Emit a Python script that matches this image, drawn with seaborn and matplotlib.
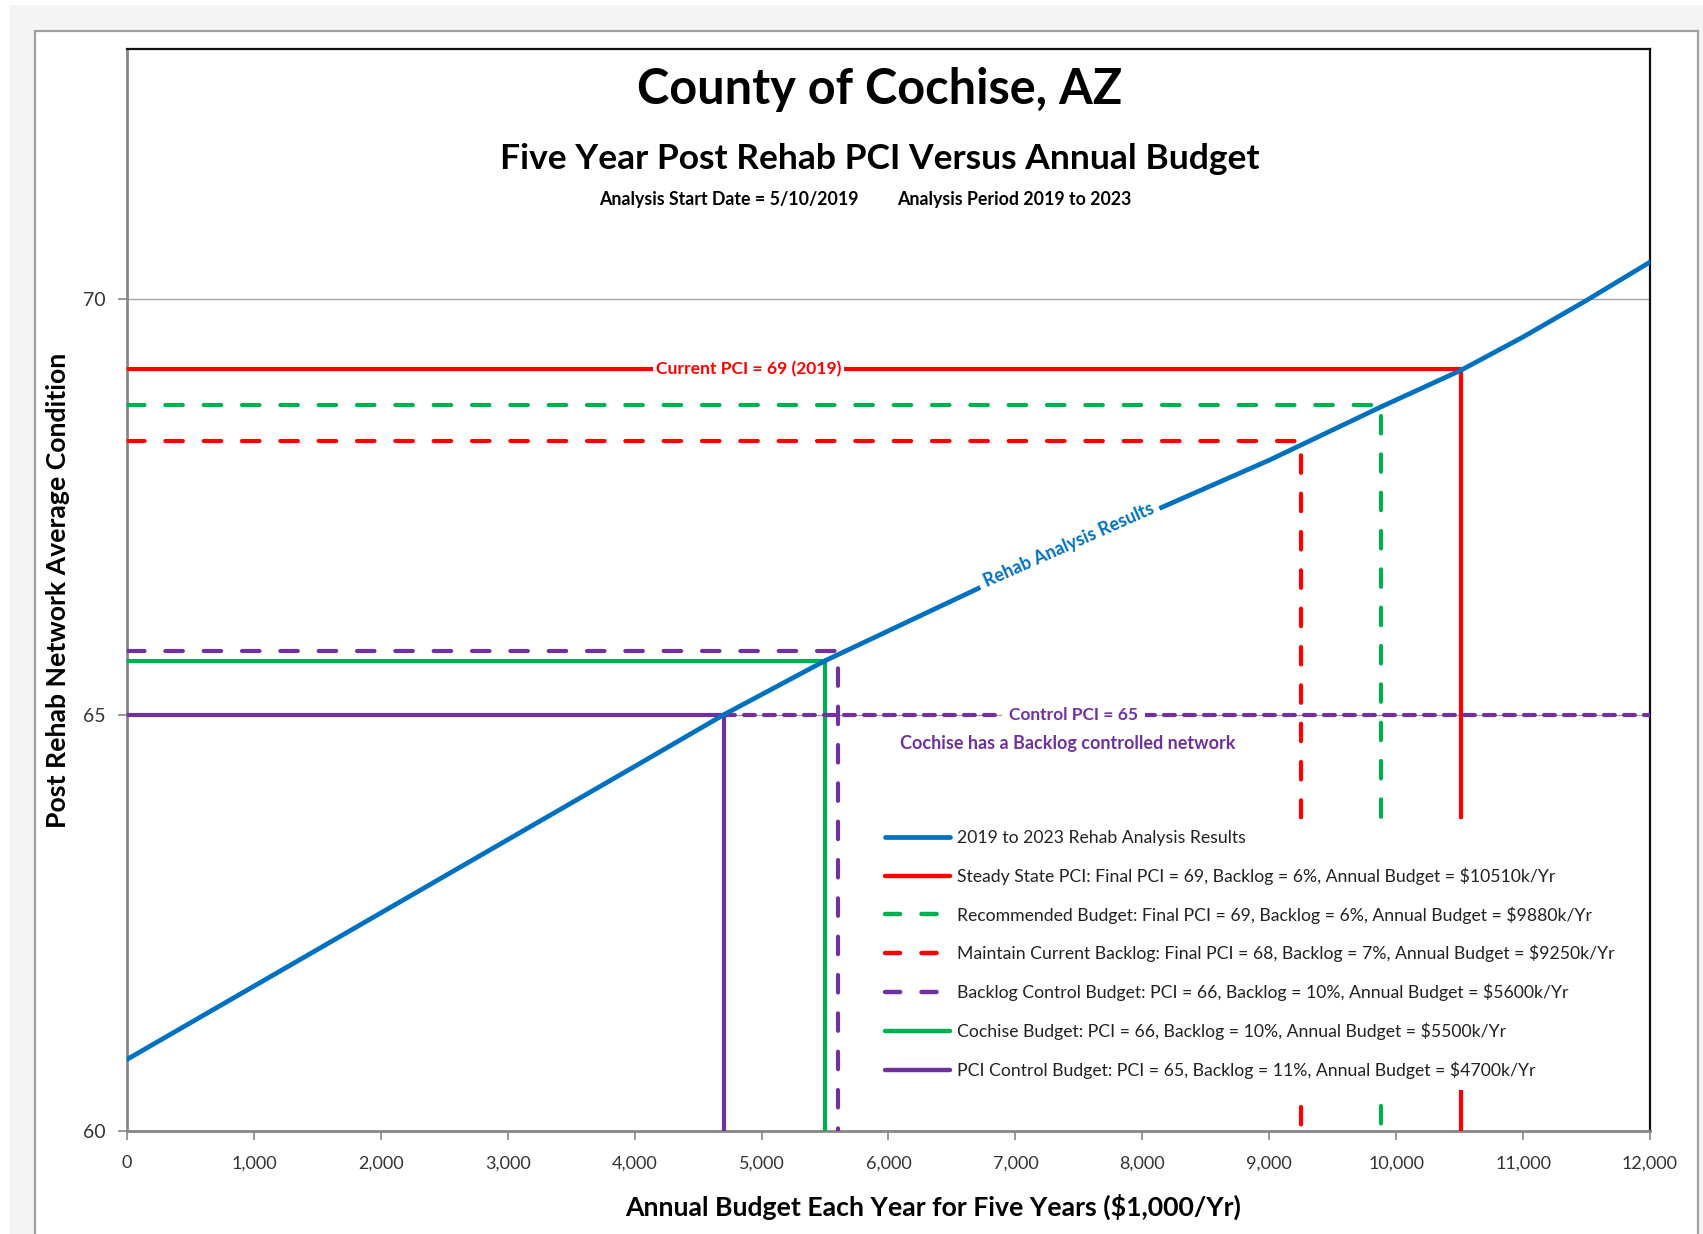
import numpy as np
import pandas as pd
import matplotlib
matplotlib.use('Agg')
import matplotlib.pyplot as plt
import seaborn as sns
from matplotlib.patches import Rectangle
from matplotlib.lines import Line2D

# ---------------- data ----------------
budget_pts = [0, 1000, 2000, 3000, 4000, 4700, 5500, 6000, 7000, 8000, 9000,
              9880, 10510, 11000, 11500, 12000]
pci_pts = [60.86, 61.74, 62.62, 63.50, 64.38, 65.00, 65.65, 66.01, 66.73, 67.39, 68.06,
           68.70, 69.14, 69.54, 69.98, 70.44]

scenario_names = [
    'Steady State PCI: Final PCI = 69, Backlog = 6%, Annual Budget = $10510k/Yr',
    'Recommended Budget: Final PCI = 69, Backlog = 6%, Annual Budget = $9880k/Yr',
    'Maintain Current Backlog: Final PCI = 68, Backlog = 7%, Annual Budget = $9250k/Yr',
    'Backlog Control Budget: PCI = 66, Backlog = 10%, Annual Budget = $5600k/Yr',
    'Cochise Budget: PCI = 66, Backlog = 10%, Annual Budget = $5500k/Yr',
    'PCI Control Budget: PCI = 65, Backlog = 11%, Annual Budget = $4700k/Yr',
]
scenario_budget = [10510, 9880, 9250, 5600, 5500, 4700]
scenario_pci = [69.15, 68.72, 68.29, 65.77, 65.65, 65.0]
scenario_color = ['#FF0000', '#00B050', '#FF0000', '#7030A0', '#00B050', '#7030A0']
scenario_dashed = [False, True, True, True, False, False]

control_pci = 65
current_pci = 69.15
curve_label = '2019 to 2023 Rehab Analysis Results'

BLUE = '#0070C0'
PURPLE = '#7030A0'
RED = '#FF0000'

# ---------------- style ----------------
sns.set_theme(style='white')
plt.rcParams['font.family'] = ['Lato', 'DejaVu Sans']

W, H = 1703, 1234
fig = plt.figure(figsize=(W / 100, H / 100), dpi=100)
fig.patch.set_facecolor('white')

# screenshot frame
fig.patches.append(Rectangle((9 / W, 0), (W - 9) / W, (H - 5) / H, transform=fig.transFigure,
                             facecolor='#F4F4F4', edgecolor='none', zorder=-3))
fig.patches.append(Rectangle((35 / W, -0.05), (1698 - 35) / W, (H - 31) / H + 0.05,
                             transform=fig.transFigure, facecolor='white',
                             edgecolor='#A0A0A0', linewidth=1.6, zorder=-2))

ax = fig.add_axes([127 / W, 1 - 1131 / H, 1523 / W, 1082 / H])
ax.set_xlim(0, 12000)
ax.set_ylim(60, 73)

curve = pd.DataFrame({'budget': budget_pts, 'pci': pci_pts})
sns.lineplot(data=curve, x='budget', y='pci', ax=ax, color=BLUE, linewidth=3.4,
             sort=False, zorder=4, legend=False)

dash_style = (0, (4.2, 5.0))
handles = [Line2D([], [], color=BLUE, lw=3.4, label=curve_label)]
for name, b, p, c, d in zip(scenario_names, scenario_budget, scenario_pci,
                            scenario_color, scenario_dashed):
    ls = dash_style if d else '-'
    ax.plot([0, b, b], [p, p, 60], color=c, lw=3.0, linestyle=ls,
            dash_capstyle='round', zorder=3)
    handles.append(Line2D([], [], color=c, lw=3.2, linestyle=(0, (3.4, 4.8)) if d else '-',
                          dash_capstyle='round', label=name))

# control PCI line
ax.plot([scenario_budget[-1], 12000], [control_pci, control_pci], color=PURPLE, lw=3.0,
        linestyle=(0, (2.6, 2.2)), dash_capstyle='round', zorder=3)

# axes cosmetics
ax.set_yticks([60, 65, 70])
ax.set_xticks(range(0, 12001, 1000))
ax.set_xticklabels([f'{v:,}' for v in range(0, 12001, 1000)])
ax.yaxis.grid(True, color='#A6A6A6', lw=1.0)
ax.set_axisbelow(True)
ax.tick_params(axis='both', direction='out', length=6.5, width=1.2, color='#868686',
               labelsize=13, labelcolor='#333333')
ax.tick_params(axis='x', pad=11)
ax.tick_params(axis='y', pad=9, labelsize=14)
ax.tick_params(bottom=True, left=True)
for s in ['left', 'bottom']:
    ax.spines[s].set_color('#868686')
    ax.spines[s].set_linewidth(2)
for s in ['top', 'right']:
    ax.spines[s].set_color('#111111')
    ax.spines[s].set_linewidth(1.6)
ax.set_xlabel('')
ax.set_ylabel('')

# annotations on lines
wbox = dict(facecolor='white', edgecolor='none', pad=2)
ax.text(4900, current_pci, 'Current PCI = 69 (2019)', color=RED, fontsize=12.6,
        fontweight='bold', ha='center', va='center', bbox=wbox, zorder=5)
ax.text(7460, control_pci, 'Control PCI = 65', color=PURPLE, fontsize=12.5,
        fontweight='bold', ha='center', va='center',
        bbox=dict(facecolor='white', edgecolor='none', pad=5), zorder=5)
ax.text(7410, 64.65, 'Cochise has a Backlog controlled network', color=PURPLE,
        fontsize=13, fontweight='bold', ha='center', va='center', zorder=5)

# label along the curve
lx = 7420
ly = float(np.interp(lx, budget_pts, pci_pts)) + 0.03
p1 = ax.transData.transform((6690, np.interp(6690, budget_pts, pci_pts)))
p2 = ax.transData.transform((8155, np.interp(8155, budget_pts, pci_pts)))
ang = np.degrees(np.arctan2(p2[1] - p1[1], p2[0] - p1[0]))
ax.text(lx, ly, 'Rehab Analysis Results', color=BLUE, fontsize=13, fontweight='bold',
        rotation=ang, rotation_mode='anchor', ha='center', va='center',
        bbox=dict(facecolor='white', edgecolor='none', pad=4), zorder=5)

leg = ax.legend(handles=handles, loc='upper left', bbox_to_anchor=(0.4907, 0.288),
                fontsize=12.7, frameon=True, facecolor='white', edgecolor='none',
                framealpha=1, handlelength=3.7, handletextpad=0.4, labelspacing=1.21,
                borderpad=0.6, borderaxespad=0)
leg.set_zorder(6)
for t in leg.get_texts():
    t.set_color('#222222')

# titles
fig.text(880 / W, 1 - 89 / H, 'County of Cochise, AZ', fontsize=35, fontweight='bold',
         ha='center', va='center', color='black')
fig.text(880 / W, 1 - 159 / H, 'Five Year Post Rehab PCI Versus Annual Budget', fontsize=25.5,
         fontweight='bold', ha='center', va='center', color='black')
fig.text(729 / W, 1 - 200 / H, 'Analysis Start Date = 5/10/2019', fontsize=12.8,
         fontweight='bold', ha='center', va='center', color='black')
fig.text(1014 / W, 1 - 200 / H, 'Analysis Period 2019 to 2023', fontsize=12.8,
         fontweight='bold', ha='center', va='center', color='black')
fig.text(58 / W, 1 - 590 / H, 'Post Rehab Network Average Condition', fontsize=19.2,
         fontweight='bold', rotation=90, ha='center', va='center', color='black')
fig.text(933 / W, 1 - 1207 / H, 'Annual Budget Each Year for Five Years ($1,000/Yr)',
         fontsize=19.2, fontweight='bold', ha='center', va='center', color='black')

fig.savefig('out.png', dpi=100)
